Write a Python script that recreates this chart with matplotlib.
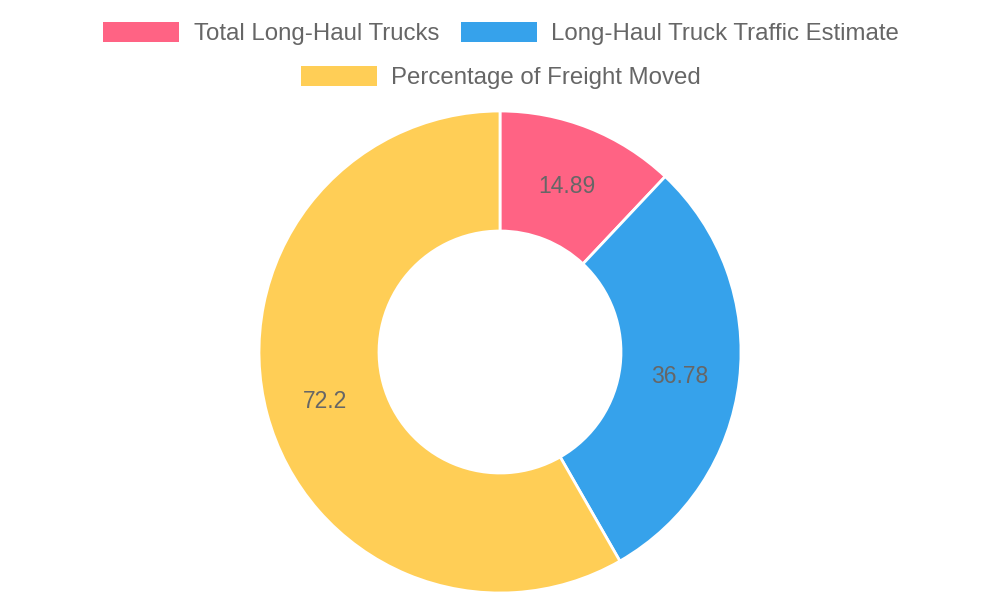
import matplotlib
matplotlib.use("Agg")
import matplotlib.pyplot as plt
from matplotlib.patches import Rectangle
import numpy as np

labels = ["Total Long-Haul Trucks", "Long-Haul Truck Traffic Estimate", "Percentage of Freight Moved"]
values = [14.89, 36.78, 72.2]
value_texts = ["14.89", "36.78", "72.2"]
colors = ["#FF6384", "#36A2EB", "#FFCE56"]

plt.rcParams['font.family'] = ['Liberation Sans', 'DejaVu Sans']

W, H = 1000, 600
fig = plt.figure(figsize=(W / 100, H / 100), dpi=100)
ax = fig.add_axes([0, 0, 1, 1])
ax.set_xlim(0, W)
ax.set_ylim(H, 0)
ax.set_aspect('equal')
ax.axis('off')

cx, cy = 500, 352
R_out, R_in = 241, 121

pax = fig.add_axes([0, 0, 1, 1])
pax.set_xlim(0, W)
pax.set_ylim(0, H)
pax.set_aspect('equal')
pax.axis('off')
wedges, _ = pax.pie(values, colors=colors, startangle=90, counterclock=False,
                    radius=R_out, center=(cx, H - cy),
                    wedgeprops=dict(width=R_out - R_in, edgecolor='white', linewidth=2.0))
pax.set_xlim(0, W)
pax.set_ylim(0, H)

total = sum(values)
start = 90.0
rmid = (R_out + R_in) / 2
for v, t in zip(values, value_texts):
    ang = start - v / total * 360 / 2
    start -= v / total * 360
    x = cx + rmid * np.cos(np.radians(ang))
    y = (H - cy) + rmid * np.sin(np.radians(ang)) - 3
    pax.text(x, y, t, ha='center', va='center', fontsize=16.5, color='#666666')

# legend (Chart.js style)
legend_items = [
    (103, 32, 194),
    (461, 32, 551),
    (301, 76, 391),
]
for (bx, by, tx), lab, c in zip(legend_items, labels, colors):
    ax.add_patch(Rectangle((bx, by - 10), 76, 20, facecolor=c, edgecolor='none'))
    ax.text(tx, by + 2, lab, ha='left', va='center', fontsize=17.3, color='#666666')

fig.savefig('out.png', dpi=100)
